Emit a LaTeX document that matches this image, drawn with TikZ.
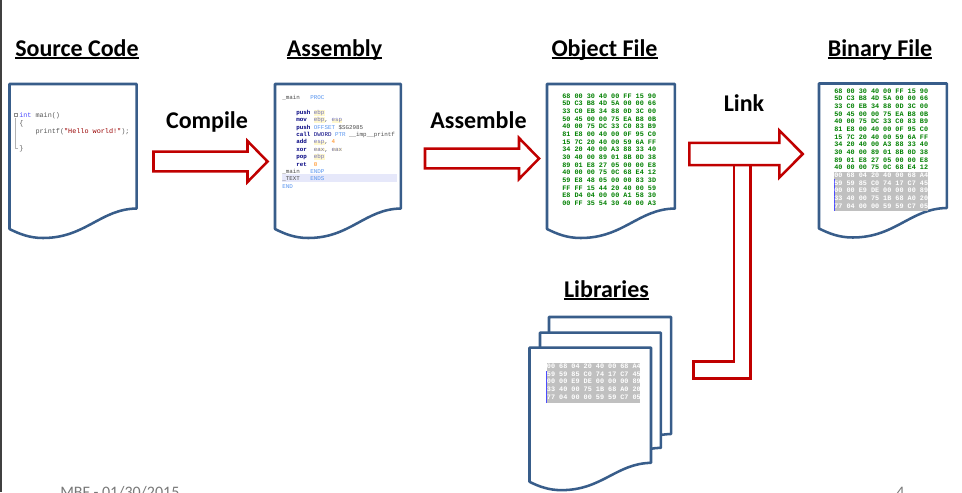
\documentclass[tikz,border=0pt]{standalone}
\usepackage{fontspec}
\setmainfont{Carlito}
\setmonofont{Liberation Mono}
\definecolor{SheetBlue}{RGB}{56,93,138}
\definecolor{ArrowRed}{RGB}{192,0,0}
\definecolor{HexGreen}{RGB}{0,128,0}
\definecolor{HexGray}{RGB}{192,192,192}
\definecolor{CodeNavy}{RGB}{0,0,128}
\definecolor{CodeSky}{RGB}{90,150,240}
\definecolor{RegYellow}{RGB}{255,248,205}
\definecolor{RowBlue}{RGB}{230,232,250}
\definecolor{FootGray}{RGB}{120,120,120}

\newcommand{\headline}[1]{\setbox0=\hbox{#1}\rlap{\rule[-2.4pt]{\wd0}{1.3pt}}\box0}
\newcommand{\reg}[1]{{\fboxsep=0pt\colorbox{RegYellow}{\textcolor{CodeNavy!55}{#1}}}}
\newcommand{\kw}[1]{\textcolor{CodeNavy}{\textbf{#1}}}
\newcommand{\sky}[1]{\textcolor{CodeSky}{#1}}

\tikzset{
  sheet/.style={draw=SheetBlue, line width=1.9pt, fill=white, line join=round},
  blockarrow/.style={draw=ArrowRed, line width=1.9pt, fill=white, line join=miter},
  heading/.style={anchor=base, inner sep=0pt, font=\fontsize{18}{20}\selectfont\bfseries},
  actionlabel/.style={anchor=base, inner sep=0pt, font=\fontsize{18}{20}\selectfont\bfseries},
  hexblock/.style={anchor=north west, inner sep=0pt, align=left, font=\ttfamily\bfseries\fontsize{5.1}{5.74}\selectfont},
  footer/.style={anchor=base west, inner sep=0pt, text=FootGray, font=\fontsize{12}{14}\selectfont}
}

% page with a wavy foot: left, top, xscale, yscale
\newcommand{\docsheet}[4]{
  \begin{scope}[shift={(#1,#2)},xscale=#3,yscale=#4]
    \draw[sheet] (0,0) -- (127.2,0) -- (127.2,124.5)
      .. controls (91,125) and (76,154) .. (33.5,154)
      .. controls (20,154) and (10,150) .. (0,145) -- cycle;
  \end{scope}
}
% left, head start, tip, middle, half shaft, half head
\newcommand{\blockarrow}[6]{
  \draw[blockarrow] (#1,#4-#5) -- (#2,#4-#5) -- (#2,#4-#6) -- (#3,#4)
    -- (#2,#4+#6) -- (#2,#4+#5) -- (#1,#4+#5) -- cycle;
}

\begin{document}
\begin{tikzpicture}[x=0.75pt,y=-0.75pt]
\path[use as bounding box,clip] (0,0) rectangle (962,492);
\fill[black!75] (0,0) rectangle (2,492);

% headings
\node[heading] (sourcetitle) at (77,56) {\headline{Source Code}};
\node[heading] (assemblytitle) at (334.5,56) {\headline{Assembly}};
\node[heading] (objecttitle) at (604.5,56) {\headline{Object File}};
\node[heading] (binarytitle) at (880,56) {\headline{Binary File}};
\node[heading] (librariestitle) at (606.5,297) {\headline{Libraries}};

% pages
\docsheet{9.5}{84}{1}{1}
\docsheet{275}{84}{0.99}{1}
\docsheet{547}{84}{1.006}{1}
\docsheet{819}{83.5}{1.005}{1}
\docsheet{549}{317}{0.96}{0.94}
\docsheet{540}{332.7}{0.95}{0.925}
\docsheet{529.5}{347.7}{0.955}{0.925}

% source code
\draw[black!30, line width=0.5pt] (15.5,118) -- (15.5,148) -- (18,148);
\draw[black!45, line width=0.4pt] (14,113.5) rectangle (17,116.5);
\node[hexblock, font=\ttfamily\fontsize{5.1}{6.15}\selectfont, text=black!65] (sourcecode) at (19,112.2) {%
  \textcolor{blue!70}{int} main()\\
  \{\\
  \ \ \ \ printf(\textcolor{red!60!black}{"Hello world!"});\\
  \\
  \}};

% assembly
\fill[RowBlue] (282,173.8) rectangle (397,182);
\node[hexblock, font=\ttfamily\fontsize{4.4}{5.55}\selectfont, text=black!70] (assemblycode) at (282,95) {%
  \_main\ \ \ \sky{PROC}\\
  \\
  \ \ \ \ \kw{push} \reg{ebp}\\
  \ \ \ \ \kw{mov}\ \ \reg{ebp}, \reg{esp}\\
  \ \ \ \ \kw{push} \sky{OFFSET} \$SG2985\\
  \ \ \ \ \kw{call} \textcolor{CodeNavy}{DWORD} \sky{PTR} \_\_imp\_\_printf\\
  \ \ \ \ \kw{add}\ \ \reg{esp}, \textcolor{orange}{4}\\
  \ \ \ \ \kw{xor}\ \ \reg{eax}, \reg{eax}\\
  \ \ \ \ \kw{pop}\ \ \reg{ebp}\\
  \ \ \ \ \kw{ret}\ \ \textcolor{orange}{0}\\
  \_main\ \ \ \sky{ENDP}\\
  \_TEXT\ \ \ \sky{ENDS}\\
  \sky{END}};

% object file
\node[hexblock, text=HexGreen] (objecthex) at (562,93.4) {%
  68 00 30 40 00 FF 15 90\\
  5D C3 B8 4D 5A 00 00 66\\
  33 C0 EB 34 88 0D 3C 00\\
  50 45 00 00 75 EA B8 0B\\
  40 00 75 DC 33 C0 83 B9\\
  81 E8 00 40 00 0F 95 C0\\
  15 7C 20 40 00 59 6A FF\\
  34 20 40 00 A3 88 33 40\\
  30 40 00 89 01 8B 0D 38\\
  89 01 E8 27 05 00 00 E8\\
  40 00 00 75 0C 68 E4 12\\
  59 E8 48 05 00 00 83 3D\\
  FF FF 15 44 20 40 00 59\\
  E8 D4 04 00 00 A1 58 30\\
  00 FF 35 54 30 40 00 A3};

% binary file
\node[hexblock, text=HexGreen] (binaryhex) at (834,88.4) {%
  68 00 30 40 00 FF 15 90\\
  5D C3 B8 4D 5A 00 00 66\\
  33 C0 EB 34 88 0D 3C 00\\
  50 45 00 00 75 EA B8 0B\\
  40 00 75 DC 33 C0 83 B9\\
  81 E8 00 40 00 0F 95 C0\\
  15 7C 20 40 00 59 6A FF\\
  34 20 40 00 A3 88 33 40\\
  30 40 00 89 01 8B 0D 38\\
  89 01 E8 27 05 00 00 E8\\
  40 00 00 75 0C 68 E4 12};
\fill[HexGray] (834,172) rectangle (928,210.7);
\draw[blue!70, line width=0.4pt] (834,179) -- (834,210.7);
\node[hexblock, text=white] (binarygray) at (834,172.8) {%
  00 68 04 20 40 00 68 A4\\
  59 59 85 C0 74 17 C7 45\\
  00 00 E9 DE 00 00 00 89\\
  33 40 00 75 1B 68 A0 20\\
  77 04 00 00 59 59 C7 05};

% libraries
\fill[HexGray] (546.7,362.7) rectangle (640,402.7);
\draw[blue!70, line width=0.4pt] (546.7,371) -- (546.7,402.7);
\node[hexblock, text=white] (librarygray) at (546.7,363.8) {%
  00 68 04 20 40 00 68 A4\\
  59 59 85 C0 74 17 C7 45\\
  00 00 E9 DE 00 00 00 89\\
  33 40 00 75 1B 68 A0 20\\
  77 04 00 00 59 59 C7 05};

% arrows
\blockarrow{153.5}{247.5}{267.5}{161.5}{9.8}{20.5}
\blockarrow{425}{519}{539}{158.5}{9.8}{20.5}
\draw[blockarrow] (734,165) -- (734,361.7) -- (693.3,361.7) -- (693.3,378.3)
  -- (750.7,378.3) -- (750.7,165);
\blockarrow{689.3}{779.3}{802.7}{154}{11.2}{23.6}

\node[actionlabel] (compilelabel) at (207,128) {Compile};
\node[actionlabel] (assemblelabel) at (478.5,128) {Assemble};
\node[actionlabel] (linklabel) at (744,111) {Link};

% footer
\node[footer] (footdate) at (60,497) {MBF - 01/30/2015};
\node[footer] (footpage) at (896,497) {4};
\end{tikzpicture}
\end{document}
